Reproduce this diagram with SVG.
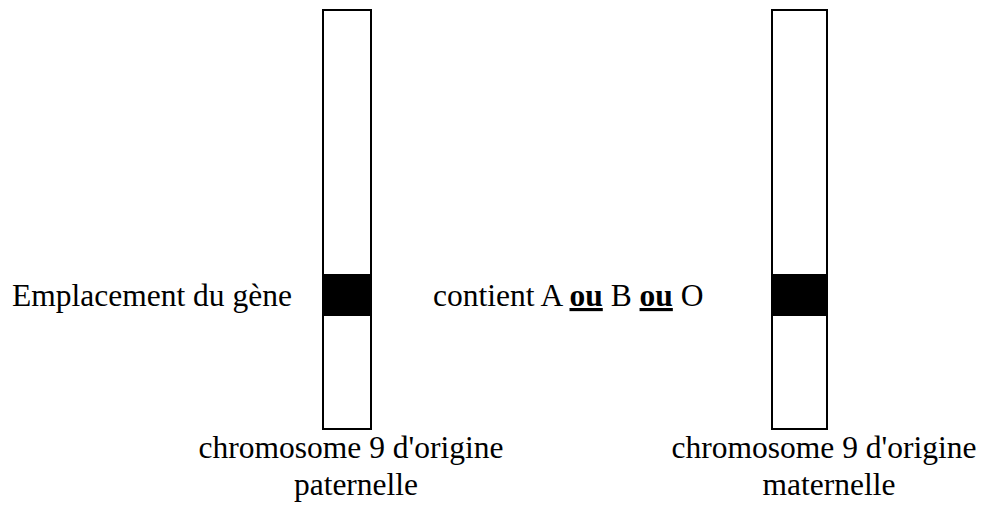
<svg xmlns="http://www.w3.org/2000/svg" width="982" height="505" viewBox="0 0 982 505">
<style>
text{font-family:"Liberation Serif","Times New Roman",serif;font-size:31.5px;fill:#000}
.chr{fill:#fff;stroke:#000;stroke-width:2}
.band{fill:#000}
.b{font-weight:bold;text-decoration:underline}
</style>
<g id="chromosome-paternel">
<rect class="chr" x="323" y="10" width="48" height="419"/>
<rect class="band" x="322" y="274" width="50" height="42"/>
</g>
<g id="chromosome-maternel">
<rect class="chr" x="772" y="10" width="55" height="419"/>
<rect class="band" x="771" y="274" width="57" height="42"/>
</g>
<g id="label-emplacement">
<text x="12" y="306">Emplacement du gène</text>
</g>
<g id="label-contient">
<text x="433" y="306">contient A <tspan class="b">ou</tspan> B <tspan class="b">ou</tspan> O</text>
</g>
<g id="label-paternel">
<text x="351" y="458" text-anchor="middle">chromosome 9 d'origine</text>
<text x="356" y="495" text-anchor="middle">paternelle</text>
</g>
<g id="label-maternel">
<text x="824" y="458" text-anchor="middle">chromosome 9 d'origine</text>
<text x="829" y="495" text-anchor="middle">maternelle</text>
</g>
</svg>
